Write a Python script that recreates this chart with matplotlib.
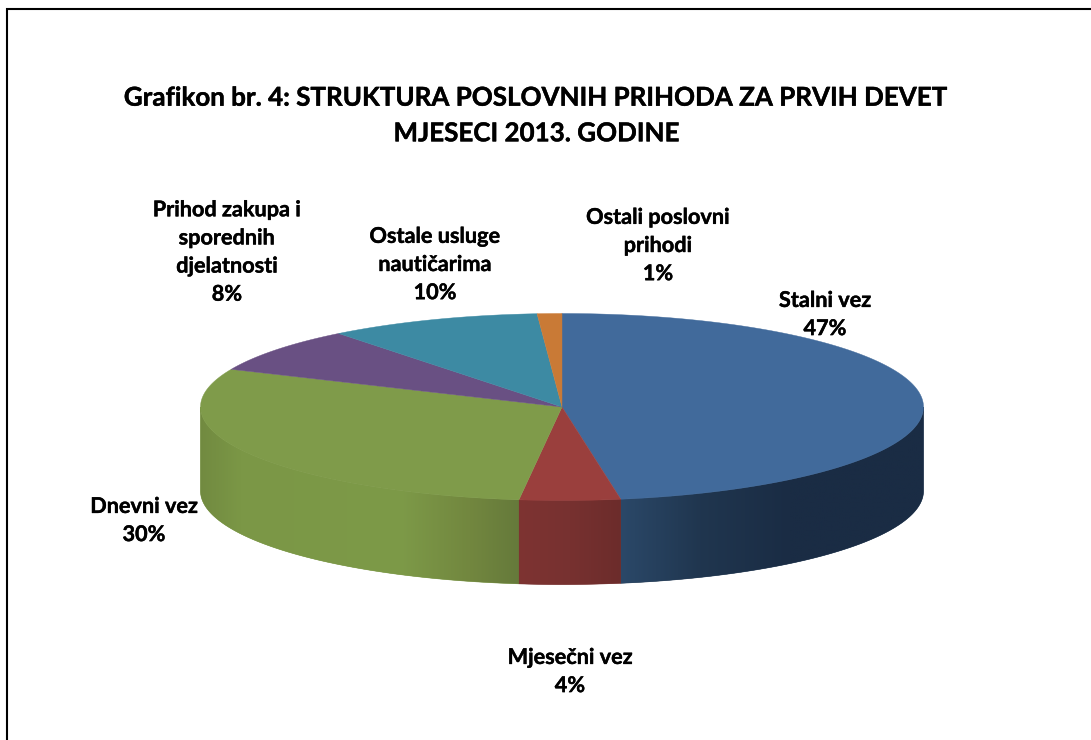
import numpy as np
import matplotlib
matplotlib.use('Agg')
import matplotlib.pyplot as plt
import matplotlib.patheffects as pe
from matplotlib.colors import LinearSegmentedColormap
from matplotlib.patches import Polygon

plt.rcParams['font.family'] = ['Lato', 'DejaVu Sans']

title = 'Grafikon br. 4: STRUKTURA POSLOVNIH PRIHODA ZA PRVIH DEVET\nMJESECI 2013. GODINE'
categories = ['Stalni vez', 'Mjesečni vez', 'Dnevni vez',
              'Prihod zakupa i\nsporednih\ndjelatnosti',
              'Ostale usluge\nnautičarima', 'Ostali poslovni\nprihodi']
values = [47.4, 4.5, 29.7, 7.8, 9.5, 1.1]
pct_labels = ['47%', '4%', '30%', '8%', '10%', '1%']

top_colors = ['#416a9b', '#9a3f3d', '#7f9b4a', '#695083', '#3d8aa3', '#c97a36']
# gradient stops for the visible wall, (x in pixels, colour)
side_stops = {
    2: [(190, '#6f873f'), (240, '#7b9746'), (400, '#7d9a48'), (470, '#72873f'), (530, '#63773a')],
    0: [(612, '#2c4a6b'), (700, '#20364f'), (790, '#1a2c44'), (930, '#1a2c44')],
    1: [(510, '#7f3432'), (570, '#773130'), (632, '#6a2b2a')],
}
label_pos = [(825, 314.5), (570, 671.5), (144, 520.5), (227, 252), (435, 264.5), (658, 245.5)]

cx, cy = 562, 407
rx, ry = 361.5, 93.5
depth = 84

fig = plt.figure(figsize=(10.91, 7.4), dpi=100)
ax = fig.add_axes([0, 0, 1, 1])

# frame of the pasted chart, open on the right and the bottom
ax.plot([7, 7, 1091], [740, 9, 9], color='black', lw=1.5, solid_joinstyle='miter')

edges = np.cumsum([0] + values) / sum(values) * 2 * np.pi


def rim(a0, a1, n=200):
    t = np.linspace(a0, a1, n)
    return cx + rx * np.sin(t), cy - ry * np.cos(t)


# walls first, clipped gradients on a solid base so no seam shows
for i, stops in side_stops.items():
    a0 = max(edges[i], np.pi / 2)
    a1 = min(edges[i + 1], 3 * np.pi / 2)
    x, y = rim(a0, a1)
    poly = Polygon(np.r_[np.c_[x, y], np.c_[x[::-1], y[::-1] + depth]],
                   closed=True, fc=stops[1][1], ec=stops[1][1], lw=0.4, zorder=3)
    ax.add_patch(poly)
    xs = np.array([s[0] for s in stops], dtype=float)
    pos = (xs - xs[0]) / (xs[-1] - xs[0])
    cmap = LinearSegmentedColormap.from_list('side', list(zip(pos, [s[1] for s in stops])))
    im = ax.imshow(np.linspace(0, 1, 256)[None, :], cmap=cmap, aspect='auto',
                   extent=(xs[0], xs[-1], 600, 300), interpolation='bilinear', zorder=4)
    im.set_clip_path(poly)

# top face of every slice
for i, color in enumerate(top_colors):
    x, y = rim(edges[i], edges[i + 1])
    ax.fill(np.r_[cx, x], np.r_[cy, y], color=color, lw=0.3, zorder=5)

heavy = [pe.withStroke(linewidth=0.3, foreground='black')]

ax.text(537, 115.5, title, ha='center', va='center', fontsize=18.7, fontweight='bold',
        color='black', linespacing=1.58, path_effects=heavy)

for name, pct, (lx, ly) in zip(categories, pct_labels, label_pos):
    ax.text(lx, ly, name + '\n' + pct, ha='center', va='center', fontsize=15.6,
            fontweight='bold', color='black', linespacing=1.42, path_effects=heavy)

ax.set_xlim(0, 1091)
ax.set_ylim(740, 0)
ax.axis('off')
fig.savefig('out.png', dpi=100, facecolor='white')
